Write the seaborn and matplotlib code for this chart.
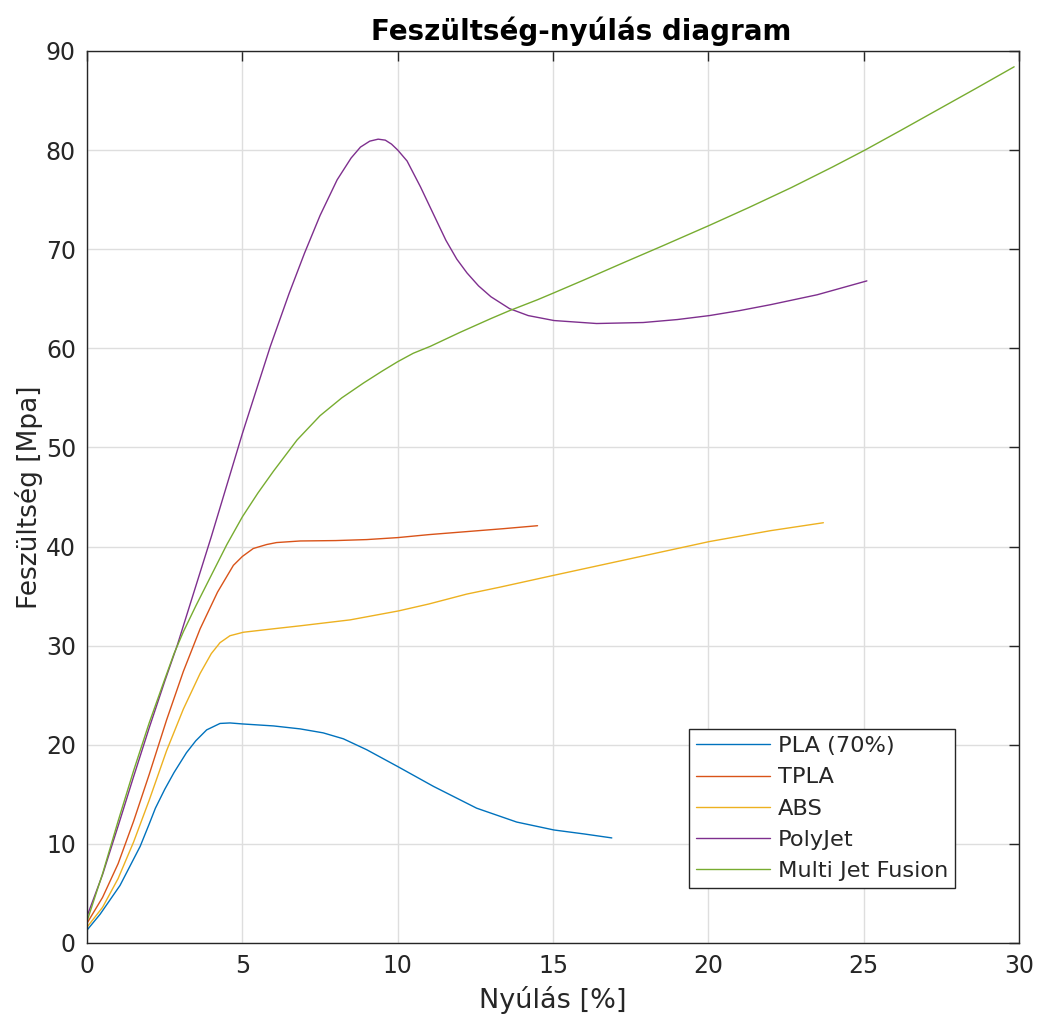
import numpy as np
import pandas as pd
import matplotlib
matplotlib.use("Agg")
import matplotlib.pyplot as plt
import seaborn as sns

# ---- data ----
series_names = ["PLA (70%)", "TPLA", "ABS", "PolyJet", "Multi Jet Fusion"]

pla_x = [0, 0.42, 1.06, 1.71, 2.0, 2.2, 2.5, 2.8, 3.2, 3.5, 3.85, 4.28, 4.6, 5.0, 6.0, 6.86, 7.6, 8.25, 9.0, 10.0, 11.15, 12.54, 13.83, 15.03, 16.0, 16.89]
pla_y = [1.3, 2.9, 5.8, 9.75, 12.0, 13.6, 15.5, 17.2, 19.2, 20.4, 21.5, 22.15, 22.2, 22.1, 21.9, 21.6, 21.2, 20.6, 19.5, 17.8, 15.8, 13.6, 12.2, 11.4, 11.0, 10.6]

tpla_x = [0, 0.5, 1.0, 1.5, 2.0, 2.56, 3.1, 3.64, 4.2, 4.71, 5.0, 5.35, 5.78, 6.1, 6.86, 8.0, 9.0, 10.0, 11.0, 12.2, 13.4, 14.5]
tpla_y = [2.0, 4.6, 8.0, 12.3, 17.0, 22.5, 27.4, 31.7, 35.4, 38.1, 39.0, 39.8, 40.2, 40.4, 40.56, 40.6, 40.7, 40.9, 41.2, 41.5, 41.8, 42.1]

abs_x = [0, 0.5, 1.0, 1.5, 2.0, 2.56, 3.1, 3.64, 4.0, 4.28, 4.6, 5.03, 6.0, 6.86, 8.47, 10.02, 11.0, 12.22, 13.29, 15.03, 16.5, 18.12, 20.03, 22.0, 23.7]
abs_y = [1.6, 3.6, 6.5, 10.2, 14.4, 19.4, 23.6, 27.2, 29.2, 30.3, 31.0, 31.35, 31.7, 32.0, 32.6, 33.5, 34.2, 35.2, 35.9, 37.1, 38.1, 39.2, 40.5, 41.6, 42.4]

polyjet_x = [0, 0.5, 1.0, 1.5, 2.0, 2.5, 2.9, 3.3, 3.68, 4.0, 4.5, 5.0, 5.5, 5.9, 6.5, 7.0, 7.5, 8.05, 8.5, 8.8, 9.1, 9.37, 9.6, 9.8, 10.0, 10.3, 10.73, 11.2, 11.55, 11.9, 12.23, 12.6, 13.0, 13.6, 14.2, 15.03, 16.4, 17.9, 19.0, 20.03, 21.0, 22.0, 23.5, 25.1]
polyjet_y = [2.7, 6.9, 11.8, 16.8, 21.7, 26.4, 30.0, 34.0, 37.8, 41.0, 46.2, 51.4, 56.3, 60.2, 65.5, 69.6, 73.4, 77.0, 79.2, 80.3, 80.9, 81.1, 81.0, 80.6, 80.0, 78.9, 76.3, 73.2, 70.9, 69.0, 67.6, 66.3, 65.2, 64.0, 63.3, 62.8, 62.5, 62.6, 62.9, 63.3, 63.8, 64.4, 65.4, 66.8]

mjf_x = [0, 0.5, 1.0, 1.5, 2.0, 2.5, 2.8, 3.1, 3.5, 4.08, 4.5, 5.0, 5.5, 6.0, 6.76, 7.5, 8.2, 8.9, 9.5, 10.0, 10.5, 11.05, 12.0, 13.0, 13.6, 14.5, 15.03, 16.0, 17.24, 18.5, 20.03, 21.3, 22.66, 24.0, 25.04, 26.2, 27.4, 28.6, 29.84]
mjf_y = [2.2, 7.0, 12.3, 17.4, 22.2, 26.6, 29.2, 31.4, 34.0, 37.6, 40.2, 43.0, 45.4, 47.6, 50.75, 53.2, 55.0, 56.5, 57.7, 58.65, 59.5, 60.2, 61.6, 63.0, 63.8, 64.9, 65.6, 66.9, 68.6, 70.3, 72.4, 74.2, 76.2, 78.3, 80.0, 82.0, 84.1, 86.2, 88.4]

colors = ["#0072BD", "#D95319", "#EDB120", "#7E2F8E", "#77AC30"]

x_ticks = [0, 5, 10, 15, 20, 25, 30]
y_ticks = [0, 10, 20, 30, 40, 50, 60, 70, 80, 90]

title_text = "Feszültség-nyúlás diagram"
x_label = "Nyúlás [%]"
y_label = "Feszültség [Mpa]"

# ---- build long table ----
frames = []
for name, xs, ys in zip(series_names,
                        [pla_x, tpla_x, abs_x, polyjet_x, mjf_x],
                        [pla_y, tpla_y, abs_y, polyjet_y, mjf_y]):
    frames.append(pd.DataFrame({"x": xs, "y": ys, "series": name}))
df = pd.concat(frames, ignore_index=True)

sns.set_style("white")
plt.rcParams["font.family"] = ["DejaVu Sans"]
dark = "#262626"

fig = plt.figure(figsize=(10.4, 10.19), dpi=100)
ax = fig.add_axes([0.0837, 0.0746, 0.8962, 0.8754])

sns.lineplot(data=df, x="x", y="y", hue="series", hue_order=series_names,
             palette=colors, estimator=None, sort=False, linewidth=1.0, ax=ax)

ax.set_xlim(0, 30)
ax.set_ylim(0, 90)
ax.set_xticks(x_ticks)
ax.set_yticks(y_ticks)
ax.set_axisbelow(True)
ax.grid(True, color="#dedede", linewidth=1.0)
for s in ax.spines.values():
    s.set_visible(True)
    s.set_color(dark)
    s.set_linewidth(1.0)
ax.tick_params(direction="in", length=7, width=1, top=True, right=True,
               colors=dark, labelsize=17, pad=8)

ax.set_title(title_text, fontsize=20, fontweight="bold", color="black", pad=8, x=0.53)
ax.set_xlabel(x_label, fontsize=19.5, color=dark, labelpad=6)
ax.set_ylabel(y_label, fontsize=19, color=dark, labelpad=2)

leg = ax.legend(loc="lower left", bbox_to_anchor=(0.646, 0.0617),
                fontsize=16.2, frameon=True, fancybox=False, framealpha=1,
                edgecolor=dark, handlelength=3.3, handletextpad=0.35,
                labelspacing=0.5, borderpad=0.3, borderaxespad=0)
leg.get_frame().set_linewidth(1.0)
for line in leg.get_lines():
    line.set_linewidth(1.0)

fig.savefig("out.png", dpi=100)
